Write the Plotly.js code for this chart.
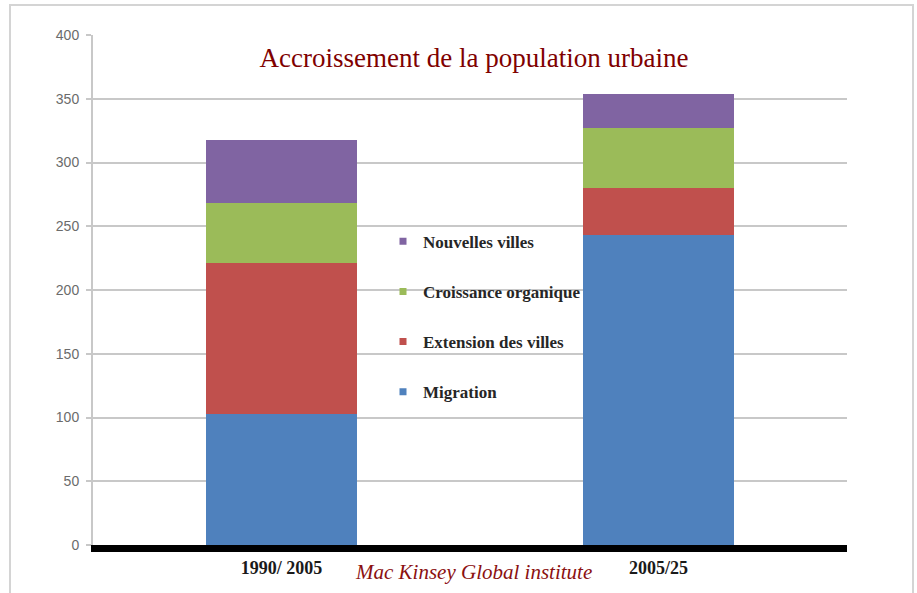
<!DOCTYPE html>
<html>
<head>
<meta charset="utf-8">
<script src="https://cdn.plot.ly/plotly-3.0.1.min.js"></script>
<style>html,body{margin:0;padding:0;background:#fff;}#chart{width:917px;height:593px;}</style>
</head>
<body>
<div id="chart"></div>
<script>
const categories = ["1990/ 2005", "2005/25"];
const migration = [103, 243];
const extensionVilles = [118, 37];
const croissance = [47, 47];
const nouvelles = [50, 27];
const seriesNames = ["Migration", "Extension des villes", "Croissance organique", "Nouvelles villes"];
const seriesColors = ["#4F81BD", "#C0504D", "#9BBB59", "#8064A2"];
const yTicks = [0, 50, 100, 150, 200, 250, 300, 350, 400];
const titleText = "Accroissement de la population urbaine";
const sourceText = "Mac Kinsey Global institute";

const seriesValues = [migration, extensionVilles, croissance, nouvelles];
const traces = [];
seriesValues.forEach((vals, i) => {
  traces.push({
    type: "bar", x: categories, y: vals, name: seriesNames[i],
    marker: {color: seriesColors[i], line: {width: 0}},
    showlegend: false, hoverinfo: "skip"
  });
});
// legend entries (top to bottom: Nouvelles, Croissance, Extension, Migration)
for (let i = seriesNames.length - 1; i >= 0; i--) {
  traces.push({
    type: "scatter", mode: "markers", x: [null], y: [null], name: seriesNames[i],
    legendgroup: "g" + i,
    marker: {symbol: "square", size: 7, color: seriesColors[i]},
    hoverinfo: "skip"
  });
}

const L = 93, R = 847, T = 35, B = 545.5, W = 917, H = 593;
const px = v => (v - L) / (R - L);
const py = v => (B - v) / (B - T);

const layout = {
  width: W, height: H,
  margin: {l: L, r: W - R, t: T, b: H - B, pad: 0},
  paper_bgcolor: "#ffffff", plot_bgcolor: "#ffffff",
  barmode: "stack", bargap: 0.602,
  showlegend: true,
  title: {
    text: titleText, x: 474 / W, xanchor: "center", xref: "container",
    y: 1 - 58 / H, yanchor: "middle", yref: "container",
    font: {family: "Liberation Serif, Times New Roman, serif", size: 27, color: "#800000"}
  },
  xaxis: {
    type: "category", tickvals: categories, ticktext: categories,
    showgrid: false, zeroline: false,
    showline: true, linecolor: "#000000", linewidth: 7,
    ticks: "", ticklabelstandoff: 0,
    tickfont: {family: "Liberation Serif, Times New Roman, serif", size: 18, color: "#1a1a1a", weight: 700},
    fixedrange: true
  },
  yaxis: {
    range: [0, 400], tickvals: yTicks, ticktext: yTicks.map(String),
    showgrid: true, gridcolor: "#C8C8C8", gridwidth: 2,
    zeroline: false, showline: true, linecolor: "#C8C8C8", linewidth: 2,
    ticks: "outside", ticklen: 5, tickwidth: 2, tickcolor: "#C8C8C8",
    tickfont: {family: "Liberation Sans, Arial, sans-serif", size: 14, color: "#6b6b6b"},
    ticklabelstandoff: 4,
    fixedrange: true
  },
  legend: {
    x: px(383), xanchor: "left", y: py(224), yanchor: "top",
    bgcolor: "rgba(0,0,0,0)", borderwidth: 0,
    traceorder: "grouped", tracegroupgap: 25,
    font: {family: "Liberation Serif, Times New Roman, serif", size: 17, color: "#262626", weight: 700},
    itemclick: false, itemdoubleclick: false
  },
  annotations: [{
    text: sourceText, xref: "paper", yref: "paper",
    x: px(473), y: py(573), xanchor: "center", yanchor: "middle",
    showarrow: false,
    font: {family: "Liberation Serif, Times New Roman, serif", size: 21, color: "#8B1010", style: "italic"}
  }],
  shapes: [{
    type: "rect", xref: "paper", yref: "paper",
    x0: px(10), x1: px(913), y0: py(620), y1: py(5),
    line: {color: "#D4D4D4", width: 2}, fillcolor: "rgba(0,0,0,0)", layer: "below"
  }]
};

Plotly.newPlot("chart", traces, layout, {displayModeBar: false, staticPlot: true});
</script>
</body>
</html>
